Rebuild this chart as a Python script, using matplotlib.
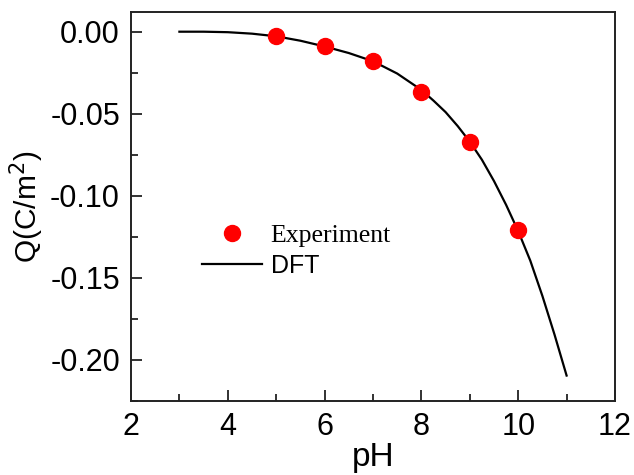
import numpy as np
import matplotlib
matplotlib.use("Agg")
import matplotlib.pyplot as plt
from matplotlib.ticker import MultipleLocator, FormatStrFormatter

plt.rcParams['font.family'] = 'Liberation Sans'
plt.rcParams['axes.unicode_minus'] = False

# experiment points
ph_exp = [5, 6, 7, 8, 9, 10]
q_exp = [-0.0024, -0.0085, -0.0177, -0.0366, -0.0670, -0.1210]

# DFT curve
ph_dft = [3.0, 3.5, 4.0, 4.5, 5.0, 5.5, 6.0, 6.5, 7.0, 7.5, 8.0, 8.25, 8.5,
          8.75, 9.0, 9.25, 9.5, 9.75, 10.0, 10.25, 10.5, 10.75, 11.0]
q_dft = [0.0, 0.0, -0.0003, -0.0012, -0.0028, -0.0055, -0.0090, -0.0130,
         -0.0180, -0.0255, -0.0355, -0.0420, -0.0490, -0.0575, -0.0670,
         -0.0780, -0.0910, -0.1055, -0.1215, -0.1395, -0.1610, -0.1845, -0.2095]

fig = plt.figure(figsize=(6.34, 4.75), dpi=100)
ax = fig.add_axes([131/634, 1-401/475, 484/634, 389/475])

ax.plot(ph_exp, q_exp, 'o', color='#ff0000', markersize=11.5, label='Experiment', zorder=3)
ax.plot(ph_dft, q_dft, '-', color='black', linewidth=1.6, label='DFT', zorder=2)

ax.set_xlim(2, 12)
ax.set_ylim(-0.225, 0.012)
ax.xaxis.set_major_locator(MultipleLocator(2))
ax.xaxis.set_minor_locator(MultipleLocator(1))
ax.yaxis.set_major_locator(MultipleLocator(0.05))
ax.yaxis.set_minor_locator(MultipleLocator(0.025))
ax.yaxis.set_major_formatter(FormatStrFormatter('%.2f'))
ax.tick_params(which='both', direction='in', top=False, right=False, labelsize=22, width=1.3, color='#222222')
ax.tick_params(which='major', length=8, pad=8)
ax.tick_params(which='minor', length=5)
for s in ax.spines.values():
    s.set_linewidth(1.4)
    s.set_color('#222222')

ax.set_xlabel('pH', fontsize=24, labelpad=0)
ax.set_ylabel('Q(C/m$^2$)', fontsize=21.5, labelpad=3)

leg = ax.legend(loc='center left', bbox_to_anchor=(0.1, 0.385), frameon=False,
                fontsize=18, handlelength=2.4, handletextpad=0.35, labelspacing=0.3)
t_exp, t_dft = leg.get_texts()
t_exp.set_fontfamily('Liberation Serif')
t_exp.set_fontsize(18.5)
t_dft.set_fontfamily('Liberation Sans')
t_dft.set_fontsize(18)

fig.savefig('out.png', dpi=100)
